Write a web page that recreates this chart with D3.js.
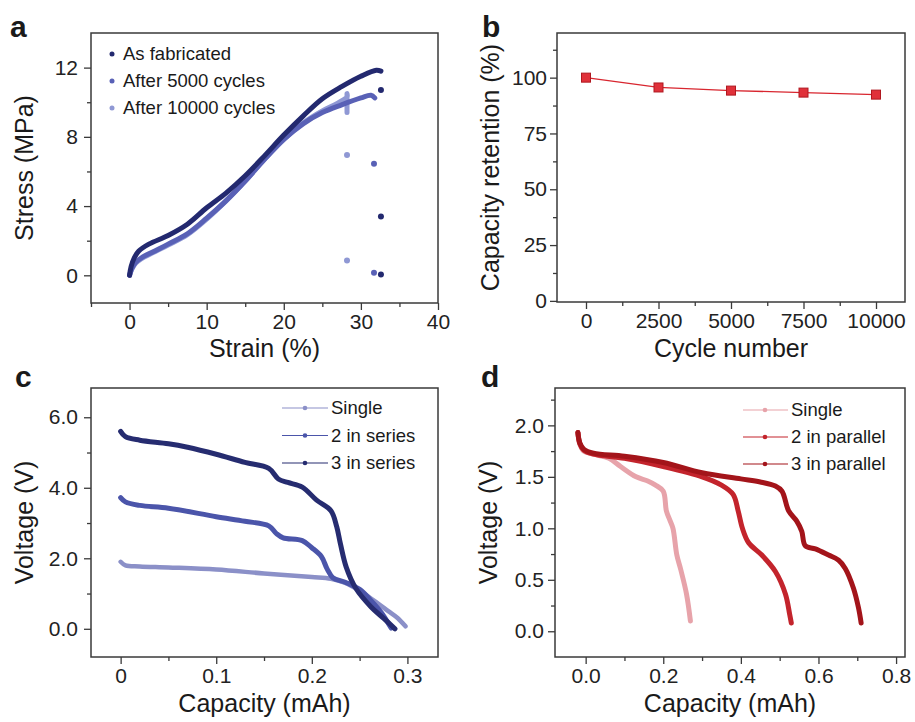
<!DOCTYPE html>
<html>
<head>
<meta charset="utf-8" />
<title>Stress and capacity panels</title>
<script src="https://d3js.org/d3.v7.min.js"></script>
<style>
body { margin: 0; background: #fff; }
svg { display: block; }
text { font-family: "Liberation Sans", Arial, sans-serif; fill: #1a1a1a; }
.frame { fill: none; stroke: #3a3a3a; stroke-width: 1.5px; }
.axis path { display: none; }
.axis line { stroke: #3a3a3a; stroke-width: 1.3px; }
.axis text { font-size: 21px; fill: #222; }
.title { font-size: 25px; }
.letter { font-size: 30px; font-weight: bold; }
.legend { font-size: 18.5px; }
</style>
</head>
<body>
<div id="container"></div>
<script>
/* ---- panel a : stress / strain ---- */
var strainFab = [0, 0.2, 0.6, 1.2, 2.5, 5, 7.5, 10, 12.5, 15, 17.5, 20, 22.5, 25, 27.5, 30, 32, 32.6];
var stressFab = [0, 0.5, 1.0, 1.4, 1.8, 2.3, 2.95, 3.9, 4.75, 5.75, 6.9, 8.1, 9.2, 10.2, 10.9, 11.5, 11.85, 11.8];
var strain5k = [0, 0.3, 0.8, 1.5, 3, 5, 7.5, 10, 12.5, 15, 17.5, 20, 22.5, 25, 27.5, 30, 31.3, 31.8];
var stress5k = [0, 0.4, 0.75, 1.0, 1.35, 1.8, 2.4, 3.3, 4.3, 5.45, 6.7, 7.85, 8.75, 9.4, 9.85, 10.25, 10.4, 10.25];
var strain10k = [0, 0.3, 0.8, 1.5, 3, 5, 7.5, 10, 12.5, 15, 17.5, 20, 22.5, 25, 27, 28.2, 28.2, 28.2];
var stress10k = [0, 0.35, 0.7, 0.95, 1.3, 1.75, 2.35, 3.25, 4.3, 5.45, 6.7, 7.85, 8.8, 9.5, 9.95, 10.3, 10.5, 9.4];
/* isolated points after fracture */
var breakFabX = [32.6, 32.6, 32.6], breakFabY = [10.7, 3.4, 0.05];
var break5kX = [31.7, 31.7], break5kY = [6.45, 0.15];
var break10kX = [28.2, 28.2], break10kY = [6.95, 0.85];
var aNames = ["As fabricated", "After 5000 cycles", "After 10000 cycles"];
var aXTicks = [0, 10, 20, 30, 40], aYTicks = [0, 4, 8, 12];

/* ---- panel b : capacity retention ---- */
var cycles = [0, 2500, 5000, 7500, 10000];
var retention = [100, 95.6, 94.2, 93.3, 92.4];
var bXTicks = [0, 2500, 5000, 7500, 10000], bYTicks = [0, 25, 50, 75, 100];

/* ---- panel c : series ---- */
var cSingleX = [0, 0.005, 0.02, 0.05, 0.1, 0.15, 0.2, 0.22, 0.235, 0.25, 0.265, 0.28, 0.29, 0.298];
var cSingleY = [1.9, 1.8, 1.77, 1.74, 1.68, 1.57, 1.47, 1.42, 1.3, 1.08, 0.8, 0.5, 0.3, 0.07];
var cSer2X = [0, 0.005, 0.02, 0.05, 0.1, 0.13, 0.155, 0.163, 0.17, 0.19, 0.2, 0.21, 0.216, 0.222, 0.235, 0.25, 0.262, 0.273, 0.283];
var cSer2Y = [3.72, 3.6, 3.5, 3.42, 3.18, 3.05, 2.92, 2.7, 2.58, 2.5, 2.3, 2.05, 1.7, 1.45, 1.32, 1.12, 0.8, 0.45, 0.02];
var cSer3X = [0, 0.005, 0.02, 0.05, 0.07, 0.1, 0.13, 0.155, 0.165, 0.175, 0.19, 0.205, 0.22, 0.226, 0.23, 0.236, 0.246, 0.262, 0.275, 0.287];
var cSer3Y = [5.6, 5.45, 5.35, 5.25, 5.15, 4.95, 4.72, 4.55, 4.25, 4.15, 4.02, 3.65, 3.35, 2.9, 2.4, 1.75, 1.15, 0.62, 0.3, 0.0];
var cNames = ["Single", "2 in series", "3 in series"];
var cXTicks = [0, 0.1, 0.2, 0.3], cYTicks = [0, 2, 4, 6];

/* ---- panel d : parallel ---- */
var dSingleX = [-0.02, -0.015, -0.005, 0.02, 0.06, 0.09, 0.13, 0.16, 0.18, 0.2, 0.208, 0.217, 0.225, 0.235, 0.245, 0.26, 0.27];
var dSingleY = [1.93, 1.82, 1.75, 1.72, 1.68, 1.6, 1.5, 1.46, 1.42, 1.36, 1.17, 1.08, 1.0, 0.74, 0.6, 0.36, 0.1];
var dPar2X = [-0.02, -0.015, -0.005, 0.02, 0.1, 0.2, 0.3, 0.35, 0.38, 0.393, 0.404, 0.42, 0.454, 0.489, 0.515, 0.526, 0.53];
var dPar2Y = [1.93, 1.82, 1.76, 1.72, 1.68, 1.6, 1.5, 1.42, 1.33, 1.17, 1.0, 0.86, 0.74, 0.58, 0.36, 0.16, 0.08];
var dPar3X = [-0.02, -0.015, -0.005, 0.02, 0.1, 0.2, 0.3, 0.4, 0.45, 0.489, 0.506, 0.523, 0.544, 0.557, 0.566, 0.592, 0.626, 0.652, 0.669, 0.69, 0.703, 0.71];
var dPar3Y = [1.93, 1.83, 1.77, 1.73, 1.7, 1.64, 1.54, 1.48, 1.45, 1.41, 1.36, 1.17, 1.07, 0.97, 0.83, 0.8, 0.74, 0.69, 0.61, 0.42, 0.23, 0.08];
var dNames = ["Single", "2 in parallel", "3 in parallel"];
var dXTicks = [0, 0.2, 0.4, 0.6, 0.8], dYTicks = [0, 0.5, 1.0, 1.5, 2.0];

var W = 915, H = 722;
var svg = d3.select("#container").append("svg").attr("width", W).attr("height", H);

function zip(xs, ys) { return xs.map(function(v, i) { return [v, ys[i]]; }); }

/* builds the frame, scales, major + minor ticks of one panel */
function panel(o) {
    var x = d3.scaleLinear().domain(o.xd).range([o.l, o.r]);
    var y = d3.scaleLinear().domain(o.yd).range([o.b, o.t]);
    var g = svg.append("g");
    g.append("g").attr("class", "axis").attr("transform", "translate(0," + o.b + ")")
        .call(d3.axisBottom(x).tickValues(o.xt).tickSize(7).tickPadding(4.5).tickFormat(o.xf));
    g.append("g").attr("class", "axis").attr("transform", "translate(0," + o.b + ")")
        .call(d3.axisBottom(x).tickValues(o.xm).tickSize(4).tickFormat(""));
    g.append("g").attr("class", "axis").attr("transform", "translate(" + o.l + ",0)")
        .call(d3.axisLeft(y).tickValues(o.yt).tickSize(7).tickPadding(o.yp).tickFormat(o.yf));
    g.append("g").attr("class", "axis").attr("transform", "translate(" + o.l + ",0)")
        .call(d3.axisLeft(y).tickValues(o.ym).tickSize(4).tickFormat(""));
    g.append("rect").attr("class", "frame")
        .attr("x", o.l).attr("y", o.t).attr("width", o.r - o.l).attr("height", o.b - o.t);
    g.append("text").attr("class", "letter").attr("x", o.lx).attr("y", o.ly).text(o.letter);
    g.append("text").attr("class", "title").attr("text-anchor", "middle")
        .attr("x", (o.l + o.r) / 2).attr("y", o.xty).text(o.xtitle);
    g.append("text").attr("class", "title").attr("text-anchor", "middle")
        .attr("transform", "translate(" + o.ytx + "," + ((o.t + o.b) / 2) + ") rotate(-90)")
        .text(o.ytitle);
    return { g: g, x: x, y: y };
}

function drawLine(p, data, color, w) {
    p.g.append("path").datum(data)
        .attr("fill", "none").attr("stroke", color).attr("stroke-width", w)
        .attr("stroke-linejoin", "round").attr("stroke-linecap", "round")
        .attr("d", d3.line().curve(d3.curveCatmullRom)
            .x(function(d) { return p.x(d[0]); }).y(function(d) { return p.y(d[1]); }));
}

/* ===== panel a ===== */
var aColors = ["#23296f", "#5961b6", "#8f98d4"];
var pa = panel({ l: 91, t: 33, r: 438, b: 303, xd: [-5, 40], yd: [-1.6, 14],
    xt: aXTicks, yt: aYTicks, xm: [-5, 5, 15, 25, 35], ym: [2, 6, 10], yp: 6,
    xf: d3.format("d"), yf: d3.format("d"),
    letter: "a", lx: 10, ly: 37, xtitle: "Strain (%)", xty: 357,
    ytitle: "Stress (MPa)", ytx: 33 });
drawLine(pa, zip(strain10k, stress10k), aColors[2], 5);
drawLine(pa, zip(strain5k, stress5k), aColors[1], 5);
drawLine(pa, zip(strainFab, stressFab), aColors[0], 5);
[[breakFabX, breakFabY, 0], [break5kX, break5kY, 1], [break10kX, break10kY, 2]].forEach(function(s) {
    pa.g.selectAll(null).data(zip(s[0], s[1])).enter().append("circle")
        .attr("cx", function(d) { return pa.x(d[0]); })
        .attr("cy", function(d) { return pa.y(d[1]); })
        .attr("r", 3).attr("fill", aColors[s[2]]);
});
aNames.forEach(function(n, i) {
    pa.g.append("circle").attr("cx", 112).attr("cy", 54 + i * 27).attr("r", 2.5).attr("fill", aColors[i]);
    pa.g.append("text").attr("class", "legend").attr("x", 123).attr("y", 60 + i * 27).text(n);
});

/* ===== panel b ===== */
var pb = panel({ l: 557, t: 33, r: 905, b: 302, xd: [-1000, 11000], yd: [-0.5, 120],
    xt: bXTicks, yt: bYTicks, xm: [1250, 3750, 6250, 8750], ym: [12.5, 37.5, 62.5, 87.5, 112.5], yp: 3,
    xf: d3.format("d"), yf: d3.format("d"),
    letter: "b", lx: 482, ly: 37, xtitle: "Cycle number", xty: 357,
    ytitle: "Capacity retention (%)", ytx: 499 });
var retData = zip(cycles, retention);
pb.g.append("path").datum(retData).attr("fill", "none").attr("stroke", "#d8262f").attr("stroke-width", 1.3)
    .attr("d", d3.line().x(function(d) { return pb.x(d[0]); }).y(function(d) { return pb.y(d[1]); }));
pb.g.selectAll(null).data(retData).enter().append("rect")
    .attr("x", function(d) { return pb.x(d[0]) - 4.5; })
    .attr("y", function(d) { return pb.y(d[1]) - 4.5; })
    .attr("width", 9).attr("height", 9)
    .attr("fill", "#e0313a").attr("stroke", "#b01820").attr("stroke-width", 1);

/* ===== panel c ===== */
var cColors = ["#8b90c8", "#4b55aa", "#262c70"];
var pc = panel({ l: 91, t: 388, r: 438, b: 657, xd: [-0.031, 0.332], yd: [-0.8, 6.83],
    xt: cXTicks, yt: cYTicks, xm: [0.05, 0.15, 0.25], ym: [1, 3, 5], yp: 6,
    xf: function(d) { return d === 0 ? "0" : d3.format(".1f")(d); }, yf: d3.format(".1f"),
    letter: "c", lx: 15, ly: 387, xtitle: "Capacity (mAh)", xty: 712,
    ytitle: "Voltage (V)", ytx: 33 });
drawLine(pc, zip(cSingleX, cSingleY), cColors[0], 4.5);
drawLine(pc, zip(cSer2X, cSer2Y), cColors[1], 5);
drawLine(pc, zip(cSer3X, cSer3Y), cColors[2], 5);
cNames.forEach(function(n, i) {
    var yy = 408 + i * 27.5;
    pc.g.append("line").attr("x1", 282).attr("x2", 328).attr("y1", yy).attr("y2", yy)
        .attr("stroke", cColors[i]).attr("stroke-width", 1.2);
    pc.g.append("circle").attr("cx", 305).attr("cy", yy).attr("r", 2.3).attr("fill", cColors[i]);
    pc.g.append("text").attr("class", "legend").attr("x", 331).attr("y", yy + 6).text(n);
});

/* ===== panel d ===== */
var dColors = ["#e7a3aa", "#c3242c", "#a3141a"];
var pd = panel({ l: 555, t: 388, r: 905, b: 657, xd: [-0.079, 0.823], yd: [-0.25, 2.363],
    xt: dXTicks, yt: dYTicks, xm: [0.1, 0.3, 0.5, 0.7], ym: [0.25, 0.75, 1.25, 1.75, 2.25], yp: 4,
    xf: d3.format(".1f"), yf: d3.format(".1f"),
    letter: "d", lx: 481, ly: 387, xtitle: "Capacity (mAh)", xty: 712,
    ytitle: "Voltage (V)", ytx: 497 });
drawLine(pd, zip(dSingleX, dSingleY), dColors[0], 5);
drawLine(pd, zip(dPar2X, dPar2Y), dColors[1], 5);
drawLine(pd, zip(dPar3X, dPar3Y), dColors[2], 5);
dNames.forEach(function(n, i) {
    var yy = 410 + i * 27;
    pd.g.append("line").attr("x1", 743).attr("x2", 788).attr("y1", yy).attr("y2", yy)
        .attr("stroke", dColors[i]).attr("stroke-width", 1.2);
    pd.g.append("circle").attr("cx", 765).attr("cy", yy).attr("r", 2.3).attr("fill", dColors[i]);
    pd.g.append("text").attr("class", "legend").attr("x", 791).attr("y", yy + 6).text(n);
});
</script>
</body>
</html>
